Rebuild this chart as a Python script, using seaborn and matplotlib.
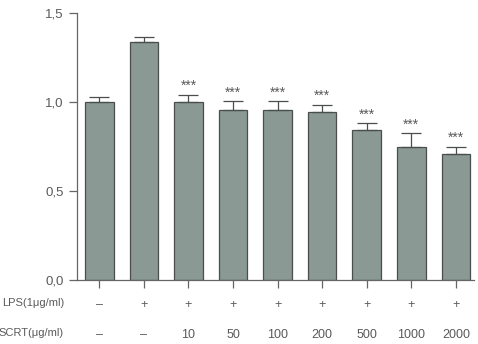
import numpy as np
import pandas as pd
import matplotlib
matplotlib.use("Agg")
import matplotlib.pyplot as plt
import seaborn as sns

# Data
groups = ["g1", "g2", "g3", "g4", "g5", "g6", "g7", "g8", "g9"]
values = [1.00, 1.335, 1.00, 0.955, 0.955, 0.945, 0.845, 0.745, 0.71]
errors = [0.03, 0.03, 0.04, 0.05, 0.05, 0.04, 0.035, 0.08, 0.04]
lps_labels = ["–", "+", "+", "+", "+", "+", "+", "+", "+"]
scrt_labels = ["–", "–", "10", "50", "100", "200", "500", "1000", "2000"]
signif = ["", "", "***", "***", "***", "***", "***", "***", "***"]

df = pd.DataFrame({"group": groups, "value": values})

sns.set_style("ticks")
plt.rcParams['font.family'] = ['Liberation Sans', 'DejaVu Sans']

fig = plt.figure(figsize=(4.78, 3.44), dpi=100)
ax = fig.add_axes([0.161, 0.186, 0.83, 0.776])

bar_color = "#8a9994"
edge_color = "#4a4f4d"
text_color = "#5a5a5a"

sns.barplot(data=df, x="group", y="value", color=bar_color, edgecolor=edge_color,
            linewidth=0.9, width=0.64, errorbar=None, ax=ax, saturation=1)

x = np.arange(len(groups))
ax.errorbar(x, values, yerr=[np.zeros(len(errors)), errors], fmt="none",
            ecolor=edge_color, elinewidth=0.9, capsize=7, capthick=0.9)

for xi, v, e, s in zip(x, values, errors, signif):
    if s:
        ax.text(xi, v + e + 0.01, s, ha="center", va="bottom", fontsize=10, color=text_color)

ax.set_ylim(0, 1.5)
ax.set_xlim(-0.5, 8.4)
ax.set_yticks([0, 0.5, 1.0, 1.5])
ax.set_yticklabels(["0,0", "0,5", "1,0", "1,5"])
ax.set_xticks(x)
ax.set_xticklabels([])
ax.set_xlabel("")
ax.set_ylabel("")
ax.tick_params(axis="both", colors="#666666", labelcolor=text_color, labelsize=9.5,
               length=6, width=0.9)
for side in ["top", "right"]:
    ax.spines[side].set_visible(False)
for side in ["left", "bottom"]:
    ax.spines[side].set_color("#666666")
    ax.spines[side].set_linewidth(0.9)

# Treatment rows below the axis
trans = ax.get_xaxis_transform()
for xi, l, s in zip(x, lps_labels, scrt_labels):
    ax.text(xi, -0.095, l, ha="center", va="center", fontsize=9, color=text_color, transform=trans)
    ax.text(xi, -0.205, s, ha="center", va="center", fontsize=9, color=text_color, transform=trans)
fig.text(64 / 478, 1 - 303 / 344, "LPS(1μg/ml)", ha="right", va="center", fontsize=8, color=text_color)
fig.text(64 / 478, 1 - 333 / 344, "SCRT(μg/ml)", ha="right", va="center", fontsize=8, color=text_color)

plt.savefig("out.png", dpi=100)
